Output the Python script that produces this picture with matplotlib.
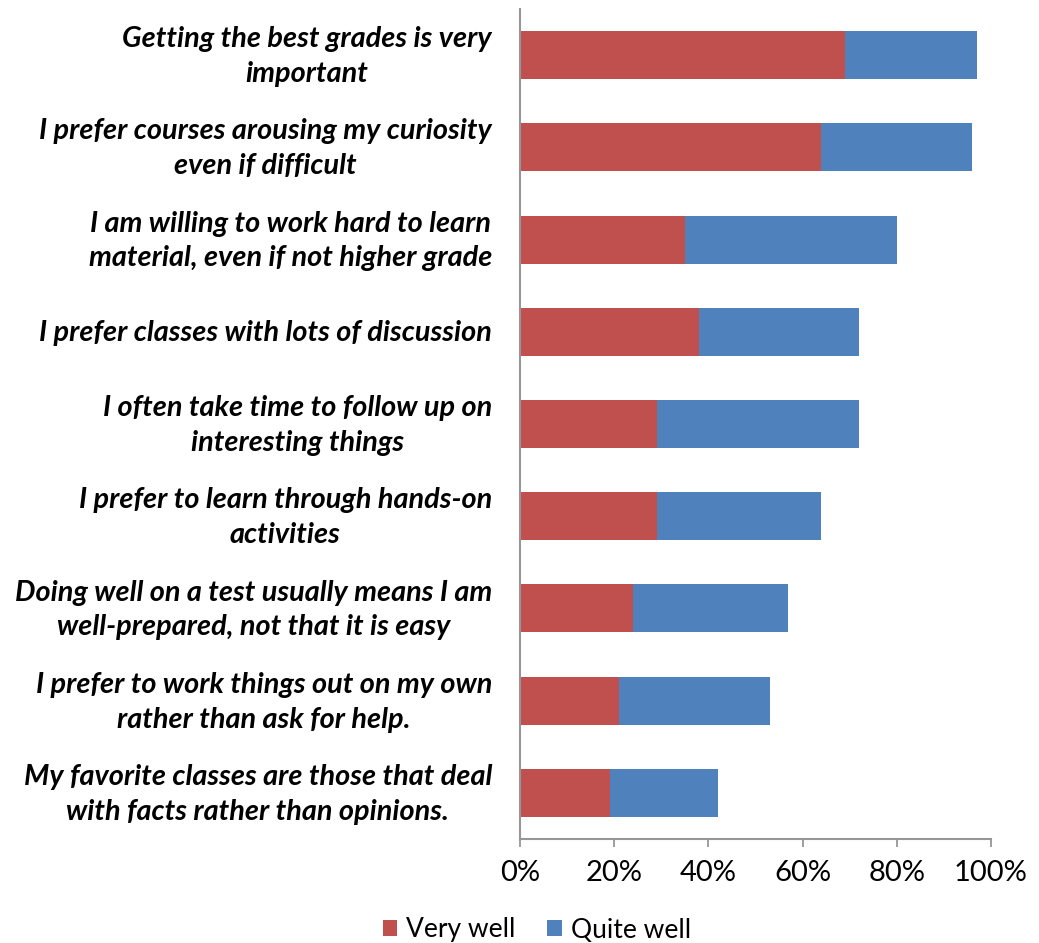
import matplotlib

matplotlib.use("Agg")
import matplotlib.pyplot as plt  # noqa: E402
import matplotlib.transforms as mtransforms  # noqa: E402
from matplotlib.patches import Patch  # noqa: E402

# Survey statements, top to bottom as they appear in the chart
STATEMENTS = [
    "Getting the best grades is very\nimportant",
    "I prefer courses arousing my curiosity\neven if difficult",
    "I am willing to work hard to learn\nmaterial, even if not higher grade",
    "I prefer classes with lots of discussion",
    "I often take time to follow up on\ninteresting things",
    "I prefer to learn through hands-on\nactivities",
    "Doing well on a test usually means I am\nwell-prepared, not that it is easy",
    "I prefer to work things out on my own\nrather than ask for help.",
    "My favorite classes are those that deal\nwith facts rather than opinions.",
]
VERY_WELL = [0.69, 0.64, 0.35, 0.38, 0.29, 0.29, 0.24, 0.21, 0.19]
QUITE_WELL = [0.28, 0.32, 0.45, 0.34, 0.43, 0.35, 0.33, 0.32, 0.23]

RED = "#C0504D"
BLUE = "#4F81BD"
AXIS_GREY = "#969696"

FONT = ["Lato", "DejaVu Sans"]

fig = plt.figure(figsize=(10.39, 9.43), dpi=100)
ax = fig.add_axes([0.5005, 0.1103, 0.9538 - 0.5005, 0.9905 - 0.1103])

y = list(range(len(STATEMENTS)))
ax.barh(y, VERY_WELL, height=0.52, color=RED, label="Very well")
ax.barh(y, QUITE_WELL, left=VERY_WELL, height=0.52, color=BLUE, label="Quite well")

ax.set_xlim(0, 1)
ax.set_ylim(-0.5, len(STATEMENTS) - 0.5)
ax.invert_yaxis()

ax.set_xticks([0, 0.2, 0.4, 0.6, 0.8, 1.0])
ax.set_xticklabels(["0%", "20%", "40%", "60%", "80%", "100%"],
                   fontsize=21, family=FONT)
ax.set_yticks(y)
ax.set_yticklabels([])

# category labels drawn by hand, right-aligned block, lines centred
base = mtransforms.blended_transform_factory(ax.transAxes, ax.transData)
tr = base + mtransforms.ScaledTranslation(-28 / 100, -1.5 / 100, fig.dpi_scale_trans)
for yi, text in zip(y, STATEMENTS):
    ax.text(0, yi, text, transform=tr, ha="right", va="center",
            multialignment="center", linespacing=1.42, fontsize=20.8,
            family=FONT, fontweight="bold", fontstyle="italic")

ax.tick_params(axis="y", length=0)
ax.tick_params(axis="x", length=6, width=1.3, color=AXIS_GREY, pad=9)

for side in ("top", "right"):
    ax.spines[side].set_visible(False)
for side in ("left", "bottom"):
    ax.spines[side].set_color(AXIS_GREY)
    ax.spines[side].set_linewidth(1.5)

handles = [Patch(facecolor=RED, label="Very well"),
           Patch(facecolor=BLUE, label="Quite well")]
fig.legend(handles=handles, loc="center", bbox_to_anchor=(537 / 1039, 1 - 930 / 943),
           ncol=2, frameon=False, prop={"family": FONT, "size": 19},
           handlelength=0.55, handleheight=0.55, handletextpad=0.35,
           columnspacing=1.2)

fig.savefig("out.png", dpi=100, facecolor="white")
